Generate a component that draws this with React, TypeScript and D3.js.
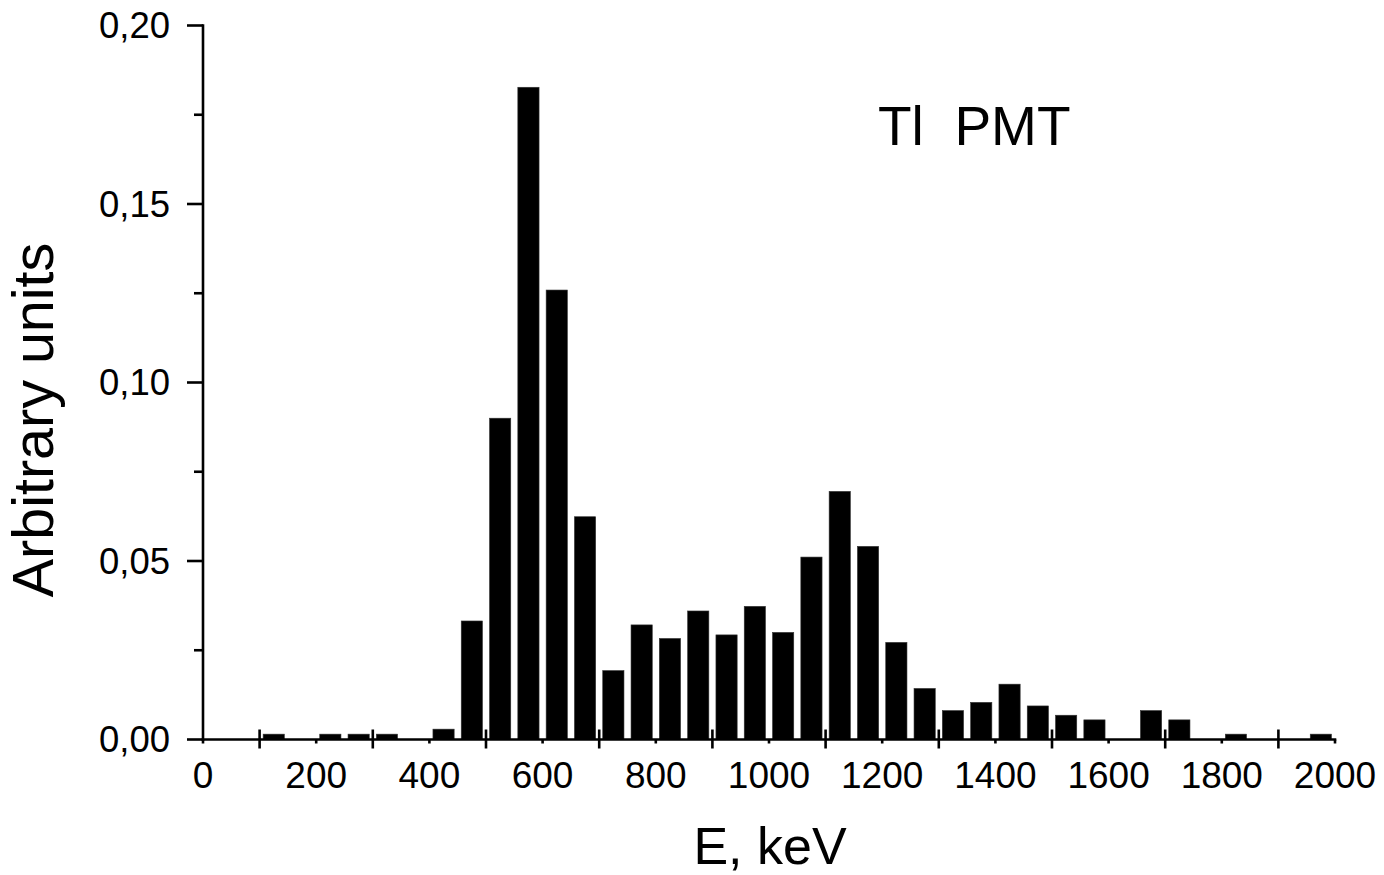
import React from "react";
import * as d3 from "d3";

const energies = [125, 225, 275, 325, 425, 475, 525, 575, 625, 675, 725, 775, 825, 875, 925, 975, 1025, 1075, 1125, 1175, 1225, 1275, 1325, 1375, 1425, 1475, 1525, 1575, 1675, 1725, 1825, 1975];
const values = [0.0015, 0.0015, 0.0015, 0.0015, 0.0029, 0.0332, 0.0900, 0.1827, 0.1259, 0.0624, 0.0193, 0.0321, 0.0283, 0.0360, 0.0293, 0.0373, 0.0300, 0.0511, 0.0695, 0.0541, 0.0272, 0.0143, 0.0081, 0.0104, 0.0155, 0.0094, 0.0068, 0.0055, 0.0081, 0.0055, 0.0015, 0.0015];
const binWidth = 50;
const xLabelTicks = [0, 200, 400, 600, 800, 1000, 1200, 1400, 1600, 1800, 2000];
const xCrossTicks = [100, 300, 500, 700, 900, 1100, 1300, 1500, 1700, 1900];
const yMajorTicks = [0, 0.05, 0.1, 0.15, 0.2];
const yMinorTicks = [0.025, 0.075, 0.125, 0.175];
const xTitle = "E, keV";
const yTitle = "Arbitrary units";
const annotation = "Tl  PMT";

const FONT = "'Liberation Sans', Arial, Helvetica, sans-serif";

export default function App() {
  const W = 1384, H = 875;
  const x = d3.scaleLinear().domain([0, 2000]).range([203, 1335]);
  const y = d3.scaleLinear().domain([0, 0.2]).range([739.5, 25.5]);
  const fmt = (v: number) => d3.format(".2f")(v).replace(".", ",");
  const bw = (x(binWidth) - x(0)) * 0.75;
  const sw = 2.6;
  const y0 = y(0);
  return (
    <svg width={W} height={H} style={{ position: "absolute", left: 0, top: 0, background: "#fff" }} fontFamily={FONT}>
      <rect x={0} y={0} width={W} height={H} fill="#fff" />
      {energies.map((e, i) => (
        <rect key={i} x={x(e) - bw / 2} y={y(values[i])} width={bw} height={y0 - y(values[i])} fill="#000" stroke="#333" strokeWidth={0.6} />
      ))}
      <line x1={x(0)} x2={x(0)} y1={y(0.2)} y2={y0} stroke="#000" strokeWidth={sw} strokeLinecap="square" />
      <line x1={x(0)} x2={x(2000)} y1={y0} y2={y0} stroke="#000" strokeWidth={sw} strokeLinecap="square" />
      {yMajorTicks.map((t) => (
        <g key={"ym" + t}>
          <line x1={x(0) - 16} x2={x(0)} y1={y(t)} y2={y(t)} stroke="#000" strokeWidth={sw} />
          <text x={170} y={y(t)} dy="0.35em" textAnchor="end" fontSize={36.5}>{fmt(t)}</text>
        </g>
      ))}
      {yMinorTicks.map((t) => (
        <line key={"yn" + t} x1={x(0) - 9} x2={x(0)} y1={y(t)} y2={y(t)} stroke="#000" strokeWidth={sw} />
      ))}
      {xCrossTicks.map((t) => (
        <line key={"xc" + t} x1={x(t)} x2={x(t)} y1={y0 - 10} y2={y0 + 9} stroke="#000" strokeWidth={sw} />
      ))}
      {xLabelTicks.map((t) => (
        <g key={"xl" + t}>
          <line x1={x(t)} x2={x(t)} y1={y0} y2={y0 + 4} stroke="#000" strokeWidth={sw} />
          <text x={x(t)} y={788} textAnchor="middle" fontSize={37}>{t}</text>
        </g>
      ))}
      <text x={770} y={864} textAnchor="middle" fontSize={52}>{xTitle}</text>
      <text transform={`translate(53,420) rotate(-90)`} textAnchor="middle" fontSize={57.5}>{yTitle}</text>
      <text x={878} y={145} fontSize={55} style={{ whiteSpace: "pre" }}>{annotation}</text>
    </svg>
  );
}
